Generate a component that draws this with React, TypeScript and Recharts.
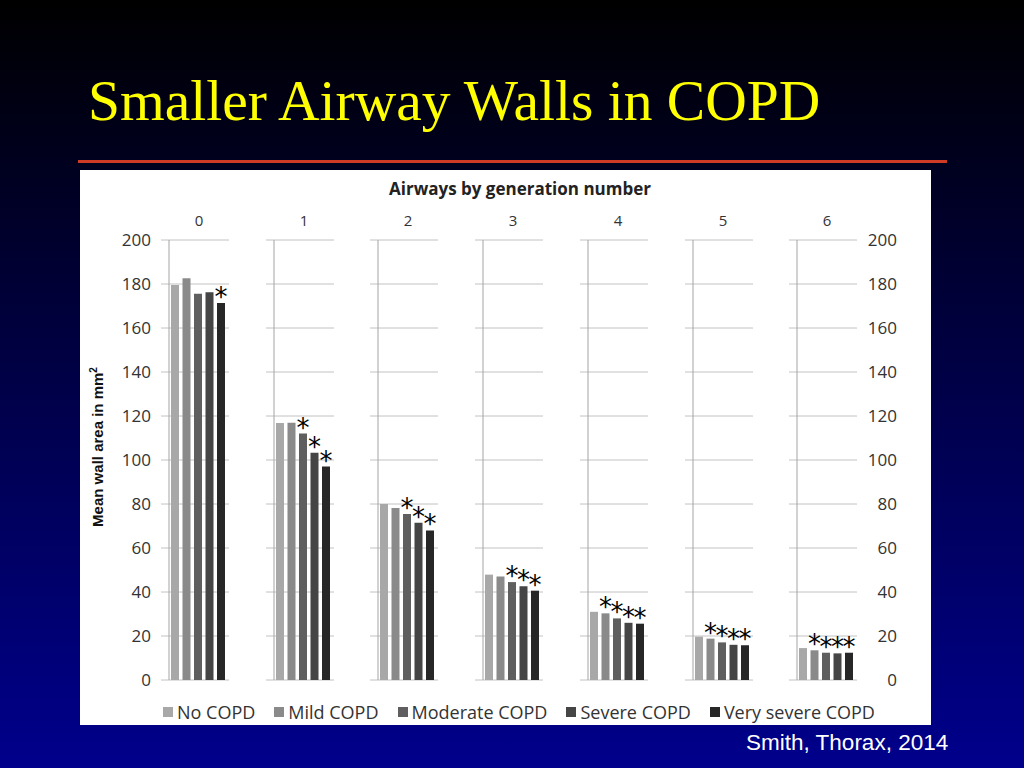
import { Bar, BarChart, CartesianGrid, LabelList, XAxis, YAxis } from "recharts";

// airway generation (columns across the top)
const generations = ["0", "1", "2", "3", "4", "5", "6"];
const yTicks = [0, 20, 40, 60, 80, 100, 120, 140, 160, 180, 200];

// mean wall area, mm2, per generation
const noCopd = [179.5, 116.8, 80, 47.9, 31, 19.7, 14.5];
const mildCopd = [182.6, 116.9, 78.2, 47, 30.3, 18.8, 13.5];
const moderateCopd = [175.6, 112, 75.5, 44.5, 28, 17.1, 12.4];
const severeCopd = [176.2, 103.3, 71.5, 42.6, 26, 16, 12.1];
const verySevereCopd = [171.4, 97, 68, 40.6, 25.6, 15.8, 12.4];

// significance markers (*)
const sigNo = [false, false, false, false, false, false, false];
const sigMild = [false, false, false, false, true, true, true];
const sigModerate = [false, true, true, true, true, true, true];
const sigSevere = [false, true, true, true, true, true, true];
const sigVerySevere = [true, true, true, true, true, true, true];

const series = [
  { key: "no", name: "No COPD", values: noCopd, sig: sigNo, color: "#a8a8a8" },
  { key: "mild", name: "Mild COPD", values: mildCopd, sig: sigMild, color: "#8a8a8a" },
  { key: "moderate", name: "Moderate COPD", values: moderateCopd, sig: sigModerate, color: "#5f5f5f" },
  { key: "severe", name: "Severe COPD", values: severeCopd, sig: sigSevere, color: "#454545" },
  { key: "verySevere", name: "Very severe COPD", values: verySevereCopd, sig: sigVerySevere, color: "#272727" },
];

const rows = generations.map((gen, i) => {
  const row: Record<string, string | number | boolean> = { gen };
  series.forEach((s) => {
    row[s.key] = s.values[i];
    row[s.key + "Sig"] = s.sig[i];
  });
  return row;
});

const FONT = "'Open Sans', sans-serif";
const PANEL_X0 = 169;
const PANEL_STEP = 104.7;
const PLOT_W = 60;
const CHART_TOP = 200;
const GRID = "#c2c2c2";
const tickStyle = { fontSize: 17, fill: "#333", fontFamily: FONT };

// gridlines reach a little left of each panel's axis
const gridLine = (p: any) => (
  <line
    key={p.key ?? p.index}
    x1={p.x1 - 8}
    x2={p.x2}
    y1={p.y1}
    y2={p.y2}
    stroke={GRID}
    strokeWidth={1}
  />
);

const Star = (p: any) => {
  if (!p.value) return null;
  const vb = p.viewBox ?? p;
  return (
    <text
      x={vb.x + vb.width / 2}
      y={vb.y + 3}
      textAnchor="middle"
      fontSize={26}
      fontFamily="'DejaVu Sans', sans-serif"
      fill="#000"
    >
      *
    </text>
  );
};

const noTick = () => <g />;

const leftTick = (p: any) => (
  <text x={p.x - 18} y={p.y} dy="0.35em" textAnchor="end" {...tickStyle}>
    {p.payload.value}
  </text>
);

// the last panel carries the right-hand scale labels
const rightTick = (p: any) => (
  <text x={p.x + PLOT_W + 40} y={p.y} dy="0.35em" textAnchor="end" {...tickStyle}>
    {p.payload.value}
  </text>
);

function Panel({ index }: { index: number }) {
  const showLeft = index === 0;
  const showRight = index === generations.length - 1;
  const leftW = showLeft ? 70 : 10;
  const rightW = showRight ? 50 : 4;
  const axisX = PANEL_X0 + index * PANEL_STEP;
  return (
    <div style={{ position: "absolute", left: axisX - leftW, top: CHART_TOP }}>
      <BarChart
        width={leftW + PLOT_W + rightW}
        height={495}
        data={[rows[index]]}
        margin={{ top: 10, right: rightW, left: leftW - 1, bottom: 15 }}
        barCategoryGap={2}
        barGap={3.5}
      >
        <CartesianGrid vertical={false} horizontal={gridLine} />
        <XAxis
          dataKey="gen"
          orientation="top"
          height={30}
          axisLine={false}
          tickLine={false}
          tickSize={0}
          tickMargin={14}
          interval={0}
          tick={{ fontSize: 15, fill: "#333", fontFamily: FONT }}
        />
        <YAxis
          domain={[0, 200]}
          ticks={yTicks}
          interval={0}
          width={1}
          axisLine={{ stroke: "#a4a4a4" }}
          tickLine={false}
          tickSize={0}
          tickMargin={0}
          tick={showLeft ? leftTick : showRight ? rightTick : noTick}
        />
        {series.map((s) => (
          <Bar key={s.key} dataKey={s.key} name={s.name} fill={s.color} isAnimationActive={false}>
            <LabelList dataKey={s.key + "Sig"} content={Star} />
          </Bar>
        ))}
      </BarChart>
    </div>
  );
}

export default function App() {
  return (
    <div
      style={{
        position: "absolute",
        left: 0,
        top: 0,
        width: 1024,
        height: 768,
        overflow: "hidden",
        background: "linear-gradient(to bottom, #000000 0%, #00003a 40%, #00008c 100%)",
      }}
    >
      <svg width={1024} height={768} style={{ position: "absolute", left: 0, top: 0 }}>
        <text
          x={88}
          y={120}
          fontSize={57.5}
          fontFamily="'Liberation Serif', 'Times New Roman', serif"
          fill="#ffff00"
        >
          Smaller Airway Walls in COPD
        </text>
        <rect x={78} y={160} width={869} height={3} fill="#cf3b25" />
        <rect x={80} y={170} width={851} height={555} fill="#ffffff" />
        <text
          x={520}
          y={195}
          textAnchor="middle"
          fontSize={17}
          fontWeight="bold"
          fontFamily={FONT}
          fill="#222"
        >
          Airways by generation number
        </text>
        <text
          transform="translate(103, 447) rotate(-90)"
          textAnchor="middle"
          fontSize={15}
          fontWeight="bold"
          fontFamily="'Liberation Sans', Arial, sans-serif"
          fill="#111"
        >
          Mean wall area in mm
          <tspan fontSize={10} dy={-6}>
            2
          </tspan>
        </text>
        <text x={746} y={750} fontSize={22.5} fontFamily="'Liberation Sans', Arial, sans-serif" fill="#ffffff">
          Smith, Thorax, 2014
        </text>
      </svg>
      {generations.map((g, i) => (
        <Panel key={g} index={i} />
      ))}
      <div
        style={{
          position: "absolute",
          left: 163,
          top: 700,
          display: "flex",
          gap: 19,
          fontFamily: FONT,
          fontSize: 18,
          color: "#333",
          lineHeight: "24px",
        }}
      >
        {series.map((s) => (
          <div key={s.key} style={{ display: "flex", alignItems: "center", gap: 4 }}>
            <span style={{ width: 10, height: 10, background: s.color, display: "inline-block" }} />
            <span>{s.name}</span>
          </div>
        ))}
      </div>
    </div>
  );
}
